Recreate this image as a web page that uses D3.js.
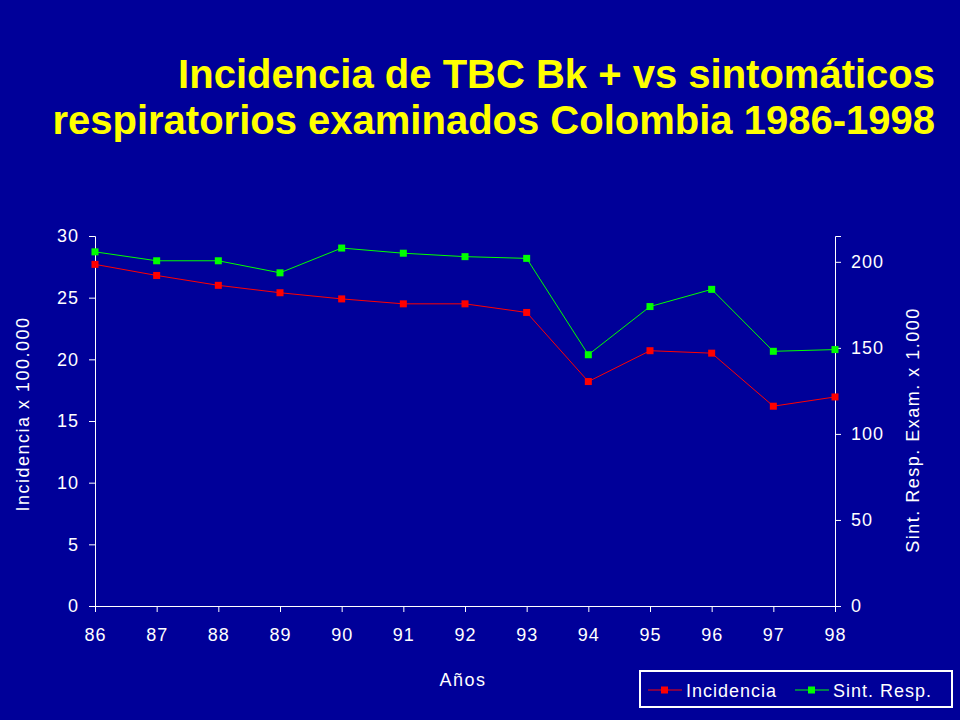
<!DOCTYPE html><html><head><meta charset="utf-8">
<script src="https://cdn.jsdelivr.net/npm/d3@7/dist/d3.min.js"></script>
<style>body{margin:0;background:#000099}</style></head><body>
<script>
const years=["86","87","88","89","90","91","92","93","94","95","96","97","98"];
const incidencia=[27.7,26.8,26.0,25.4,24.9,24.5,24.5,23.8,18.2,20.7,20.5,16.2,16.95];
const sintResp=[205.8,200.6,200.6,193.6,208,205,203,202,146,174,184,148,149];
const leftTicks=[0,5,10,15,20,25,30];
const rightTicks=[0,50,100,150,200];
const W=960,H=720,L=95,R=835,T=236,B=606;
const svg=d3.select("body").append("svg").attr("width",W).attr("height",H).style("font-family","Liberation Sans, Arial, sans-serif");
svg.append("rect").attr("width",W).attr("height",H).attr("fill","#000099");
const title=svg.append("text").attr("text-anchor","end").attr("fill","#ffff00").attr("font-weight","bold").attr("font-size",40);
title.append("tspan").attr("x",935).attr("y",88).text("Incidencia de TBC Bk + vs sintomáticos");
title.append("tspan").attr("x",935).attr("y",134).text("respiratorios examinados Colombia 1986-1998");
const x=d3.scalePoint().domain(years).range([L,R]);
const y=d3.scaleLinear().domain([0,30]).range([B,T]);
const y2=d3.scaleLinear().domain([0,215]).range([B,T]);
function style(g){g.selectAll("path,line").attr("stroke","#fff");g.selectAll("text").attr("fill","#fff").attr("font-size",18).attr("letter-spacing",1);}
svg.append("g").attr("transform",`translate(0,${B})`).call(d3.axisBottom(x).tickSize(6).tickPadding(16)).call(style);
svg.append("g").attr("transform",`translate(${L},0)`).call(d3.axisLeft(y).tickValues(leftTicks).tickSize(6).tickPadding(10)).call(style);
svg.append("g").attr("transform",`translate(${R},0)`).call(d3.axisRight(y2).tickValues(rightTicks).tickSize(6).tickPadding(10)).call(style);
svg.append("text").attr("x",463).attr("y",686).attr("text-anchor","middle").attr("fill","#fff").attr("font-size",18).attr("letter-spacing",1.5).text("Años");
svg.append("text").attr("transform","translate(29,414) rotate(-90)").attr("text-anchor","middle").attr("fill","#fff").attr("font-size",18).attr("letter-spacing",1.5).text("Incidencia x 100.000");
svg.append("text").attr("transform","translate(919,430) rotate(-90)").attr("text-anchor","middle").attr("fill","#fff").attr("font-size",18).attr("letter-spacing",1.5).text("Sint. Resp. Exam. x 1.000");
function series(vals,ys,col){
 svg.append("path").datum(vals).attr("fill","none").attr("stroke",col).attr("stroke-width",1)
  .attr("d",d3.line().x((d,i)=>x(years[i])).y(d=>ys(d)));
 svg.append("g").selectAll("rect").data(vals).join("rect").attr("x",(d,i)=>x(years[i])-3.5).attr("y",d=>ys(d)-3.5).attr("width",7).attr("height",7).attr("fill",col);
}
series(sintResp,y2,"#00ff00");
series(incidencia,y,"#ff0000");
const lg=svg.append("g");
lg.append("rect").attr("x",640).attr("y",671).attr("width",312).attr("height",36).attr("fill","none").attr("stroke","#fff").attr("stroke-width",2);
[["Incidencia","#ff0000",648],["Sint. Resp.","#00ff00",795]].forEach(([t,c,x0])=>{
 lg.append("line").attr("x1",x0).attr("x2",x0+34).attr("y1",690).attr("y2",690).attr("stroke",c);
 lg.append("rect").attr("x",x0+13).attr("y",686.5).attr("width",7).attr("height",7).attr("fill",c);
 lg.append("text").attr("x",x0+38).attr("y",697).attr("fill","#fff").attr("font-size",18).attr("letter-spacing",1).text(t);
});
</script></body></html>
